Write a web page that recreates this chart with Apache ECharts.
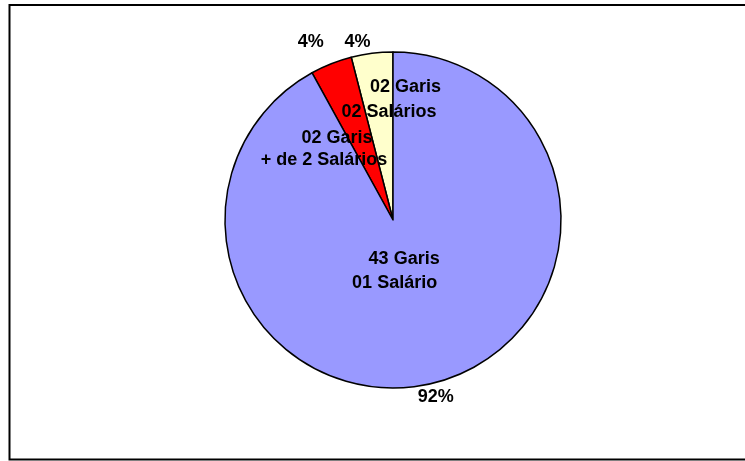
<!DOCTYPE html>
<html>
<head>
<meta charset="utf-8">
<script src="https://cdn.jsdelivr.net/npm/echarts@6/dist/echarts.min.js"></script>
<style>
  html, body { margin: 0; padding: 0; background: #fff; }
  #chart { width: 745px; height: 461px; }
</style>
</head>
<body>
<div id="chart"></div>
<script>
// Salary bands of the street sweepers (garis), in drawing order from 12 o'clock
const garis = ['02 Garis', '02 Garis', '43 Garis'];
const salarios = ['02 Salários', '+ de 2 Salários', '01 Salário'];
const shares = [4, 4, 92]; // percent of the workforce
const colors = ['#FFFFCC', '#FF0000', '#9999FF'];

// Per-slice nudges of the text blocks (name block, then percentage)
const nameShift = [[7, -34], [-37, 10], [-20, -33]];
const nameLinePad = [[0, 0, 0, 33], [0, 0, 0, 26], [0, 0, 0, 19]];
const nameLineHeight = [25, 22, 24];
const pctShift = [[5, 1], [2, -11], [-25, 3]];

const FONT = 'Liberation Sans, Arial, sans-serif';
const CENTER = [393, 220];
const RADIUS = 168;

const sliceData = shares.map((v, i) => ({
  value: v,
  name: garis[i] + ' / ' + salarios[i],
  itemStyle: { color: colors[i] }
}));

const nameData = shares.map((v, i) => {
  const base = { fontFamily: FONT, fontWeight: 'bold', fontSize: 18, color: '#000', lineHeight: nameLineHeight[i] };
  return {
    value: v,
    name: garis[i] + ' / ' + salarios[i],
    label: {
      formatter: '{a|' + garis[i] + '}\n{b|' + salarios[i] + '}',
      rich: {
        a: Object.assign({ padding: nameLinePad[i] }, base),
        b: base
      }
    }
  };
});

const chart = echarts.init(document.getElementById('chart'), null, { renderer: 'canvas' });
chart.setOption({
  backgroundColor: '#fff',
  animation: false,
  graphic: [{
    type: 'rect',
    shape: { x: 9.5, y: 5, width: 800, height: 454.5 },
    style: { fill: 'none', stroke: '#000', lineWidth: 2 },
    z: 100
  }],
  series: [
    {
      type: 'pie',
      center: CENTER,
      radius: RADIUS,
      startAngle: 90,
      clockwise: false,
      avoidLabelOverlap: false,
      silent: true,
      itemStyle: { borderColor: '#000', borderWidth: 1.5 },
      label: {
        show: true,
        position: 'outside',
        fontFamily: FONT,
        fontWeight: 'bold',
        fontSize: 18,
        color: '#000',
        formatter: p => p.value + '%'
      },
      labelLine: { show: false, length: 12, length2: 0 },
      labelLayout: p => ({ dx: pctShift[p.dataIndex][0], dy: pctShift[p.dataIndex][1] }),
      data: sliceData
    },
    {
      type: 'pie',
      center: CENTER,
      radius: RADIUS,
      startAngle: 90,
      clockwise: false,
      avoidLabelOverlap: false,
      silent: true,
      z: 3,
      itemStyle: { color: 'rgba(0,0,0,0)', borderWidth: 0 },
      label: { show: true, position: 'inside' },
      labelLine: { show: false },
      labelLayout: p => ({ dx: nameShift[p.dataIndex][0], dy: nameShift[p.dataIndex][1] }),
      data: nameData
    }
  ]
});
</script>
</body>
</html>
